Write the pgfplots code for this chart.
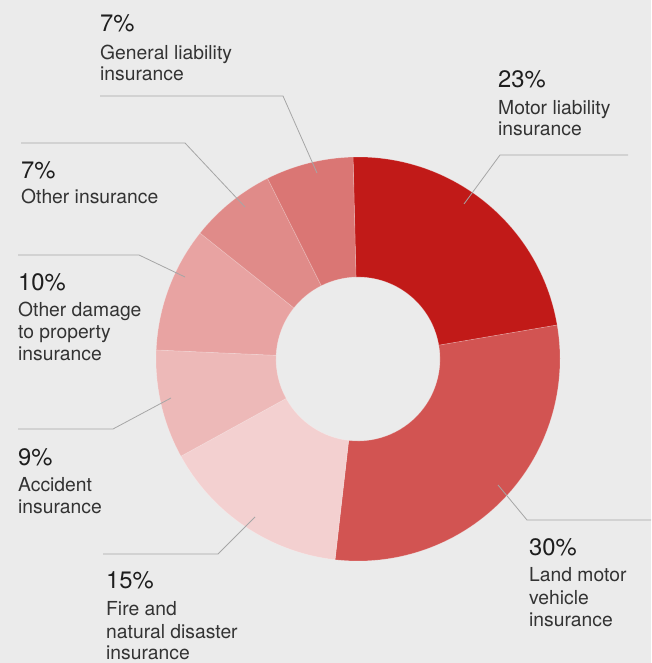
\documentclass[border=0pt]{standalone}
\usepackage{pgfplots}
\usepackage{pgfplotstable}
\pgfplotsset{compat=1.18}
\usepackage{fontspec}
\setmainfont{TeX Gyre Heros}

\definecolor{bgcol}{HTML}{EBEBEB}
\definecolor{cA}{HTML}{C11A18}
\definecolor{cB}{HTML}{D25452}
\definecolor{cC}{HTML}{F3D0D0}
\definecolor{cD}{HTML}{EDB9B8}
\definecolor{cE}{HTML}{E8A3A2}
\definecolor{cF}{HTML}{E08B89}
\definecolor{cG}{HTML}{DA7674}
\definecolor{leadcol}{HTML}{A6A6A6}
\definecolor{pctcol}{HTML}{1E1E1E}
\definecolor{labcol}{HTML}{333333}

% share of each slice (percent), clockwise from the top
\pgfplotstableread{
share color
22.7 cA
29.5 cB
15.2 cC
8.7  cD
10.0 cE
6.9  cF
7.0  cG
}\slices

\newcommand{\pct}[3]{\node[anchor=base west,inner sep=0pt,text=pctcol,font=\fontsize{23.8}{26}\selectfont] at (axis cs:#1,#2) {#3};}
\newcommand{\lab}[3]{\node[anchor=base west,inner sep=0pt,text=labcol,font=\fontsize{19.3}{22}\selectfont] at (axis cs:#1,#2) {#3};}

\begin{document}
\begin{tikzpicture}
\begin{axis}[
  x=1pt, y=1pt,
  xmin=0, xmax=651, ymin=0, ymax=663,
  hide axis, clip=false,
  scale only axis,
]
\fill[bgcol] (axis cs:0,0) rectangle (axis cs:651,663);

\pgfplotstablegetrowsof{\slices}
\pgfmathtruncatemacro\N{\pgfplotsretval-1}
\xdef\cum{91.4}
\pgfplotsforeachungrouped \i in {0,...,\N}{
  \pgfplotstablegetelem{\i}{share}\of\slices
  \pgfmathsetmacro\a{\cum}
  \pgfmathsetmacro\b{\cum-3.6*\pgfplotsretval}
  \pgfplotstablegetelem{\i}{color}\of\slices
  \edef\col{\pgfplotsretval}
  \pgfmathsetmacro\xa{358+202*cos(\a)}
  \pgfmathsetmacro\ya{304+202*sin(\a)}
  \pgfmathsetmacro\xb{358+82*cos(\b)}
  \pgfmathsetmacro\yb{304+82*sin(\b)}
  \edef\cmd{\noexpand\filldraw[fill=\col, draw=white, draw opacity=0.25, line width=0.6pt]
    (axis cs:\xa,\ya) arc[start angle=\a, end angle=\b, radius=202pt]
    -- (axis cs:\xb,\yb) arc[start angle=\b, end angle=\a, radius=82pt] -- cycle;}
  \cmd
  \xdef\cum{\b}
}

% leader lines
\addplot[leadcol, line width=0.8pt] coordinates {(100,567) (283,567) (317,490)};
\addplot[leadcol, line width=0.8pt] coordinates {(21,520) (185,520) (245,456)};
\addplot[leadcol, line width=0.8pt] coordinates {(628,508) (500,508) (464,459)};
\addplot[leadcol, line width=0.8pt] coordinates {(18,408) (139,408) (185,386)};
\addplot[leadcol, line width=0.8pt] coordinates {(18,234) (113,234) (171,265)};
\addplot[leadcol, line width=0.8pt] coordinates {(103,109) (218,109) (255,146)};
\addplot[leadcol, line width=0.8pt] coordinates {(651,143) (527,143) (498,178)};

% labels
\pct{100}{631}{7\%}
\lab{100}{603}{General liability}
\lab{100}{582}{insurance}

\pct{21}{484}{7\%}
\lab{21}{459}{Other insurance}

\pct{498}{575}{23\%}
\lab{498}{548}{Motor liability}
\lab{498}{527}{insurance}

\pct{18}{372}{10\%}
\lab{18}{346}{Other damage}
\lab{18}{324}{to property}
\lab{18}{302}{insurance}

\pct{18}{197}{9\%}
\lab{18}{171}{Accident}
\lab{18}{149}{insurance}

\pct{106}{74}{15\%}
\lab{106}{47}{Fire and}
\lab{106}{24}{natural disaster}
\lab{106}{3}{insurance}

\pct{529}{107}{30\%}
\lab{529}{81}{Land motor}
\lab{529}{58}{vehicle}
\lab{529}{36}{insurance}
\end{axis}
\end{tikzpicture}
\end{document}
